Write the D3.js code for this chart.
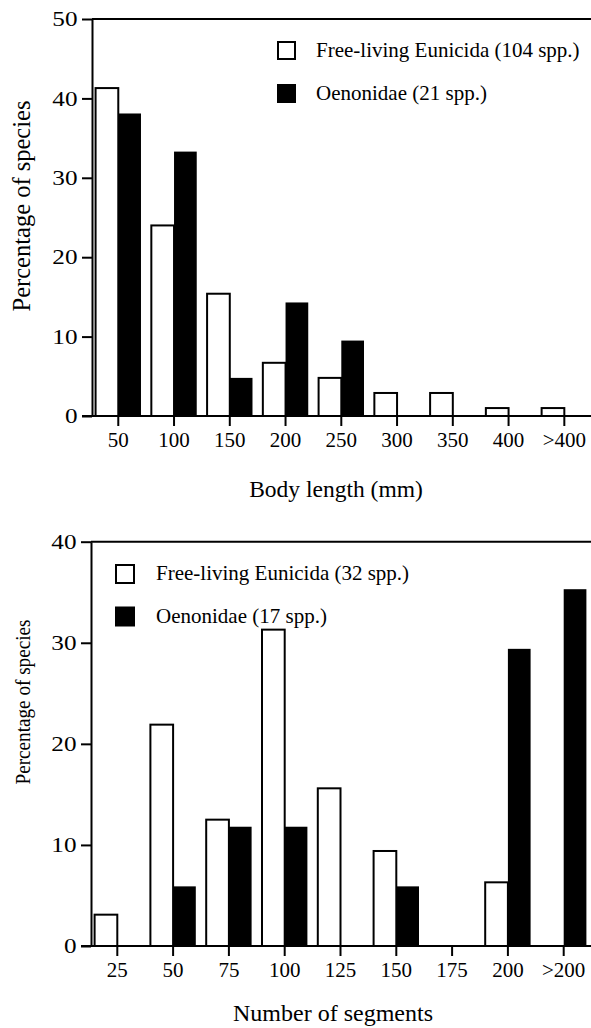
<!DOCTYPE html>
<html>
<head>
<meta charset="utf-8">
<script src="https://cdn.jsdelivr.net/npm/d3@7"></script>
<style>
  html, body { margin: 0; padding: 0; background: #fff; }
  svg { display: block; }
  text { font-family: "Liberation Serif", "Times New Roman", serif; fill: #000; }
</style>
</head>
<body>
<svg id="chart" width="591" height="1028"></svg>
<script>
// ---- Data (percentage of species) ----
const lengthCategories = ["50", "100", "150", "200", "250", "300", "350", "400", ">400"];
const lengthFreeLiving = [41.3, 24.0, 15.4, 6.7, 4.8, 2.9, 2.9, 1.0, 1.0];
const lengthOenonidae  = [38.1, 33.3, 4.8, 14.3, 9.5, 0, 0, 0, 0];
const lengthYTicks = [0, 10, 20, 30, 40, 50];

const segmentCategories = ["25", "50", "75", "100", "125", "150", "175", "200", ">200"];
const segmentFreeLiving = [3.1, 21.9, 12.5, 31.3, 15.6, 9.4, 0, 6.3, 0];
const segmentOenonidae  = [0, 5.9, 11.8, 11.8, 0, 5.9, 0, 29.4, 35.3];
const segmentYTicks = [0, 10, 20, 30, 40];

const lengthLegend = ["Free-living Eunicida (104 spp.)", "Oenonidae (21 spp.)"];
const segmentLegend = ["Free-living Eunicida (32 spp.)", "Oenonidae (17 spp.)"];

const svg = d3.select("#chart");

function panel(cfg) {
  const g = svg.append("g");
  const x = d3.scaleBand().domain(cfg.cats).range(cfg.xRange).paddingInner(0).paddingOuter(0);
  const y = d3.scaleLinear().domain([0, d3.max(cfg.yTicks)]).range(cfg.yRange);
  const bw = cfg.barW;
  const mid = c => x(c) + x.bandwidth() / 2;
  const axisX = cfg.xRange[0] + 1.6;

  // bars
  const rows = cfg.cats.map((c, i) => ({c, free: cfg.free[i], oeno: cfg.oeno[i]}));
  g.selectAll("rect.free").data(rows.filter(d => d.free > 0)).join("rect")
    .attr("class", "free")
    .attr("x", d => mid(d.c) - bw).attr("width", bw)
    .attr("y", d => y(d.free)).attr("height", d => y(0) - y(d.free))
    .attr("fill", "#fff").attr("stroke", "#000").attr("stroke-width", 2);
  g.selectAll("rect.oeno").data(rows.filter(d => d.oeno > 0)).join("rect")
    .attr("class", "oeno")
    .attr("x", d => mid(d.c)).attr("width", bw)
    .attr("y", d => y(d.oeno)).attr("height", d => y(0) - y(d.oeno))
    .attr("fill", "#000");

  // x axis
  const xa = g.append("g").attr("transform", `translate(0,${y(0)})`)
    .call(d3.axisBottom(x).tickSize(10).tickSizeOuter(0).tickPadding(6));
  xa.select(".domain").remove();
  xa.selectAll(".tick line").attr("stroke", "#000").attr("stroke-width", 2);
  xa.selectAll(".tick text").attr("font-size", 21).attr("font-family", "Liberation Serif");
  g.append("line").attr("x1", axisX - 10).attr("x2", 591).attr("y1", y(0)).attr("y2", y(0))
    .attr("stroke", "#000").attr("stroke-width", 2);
  // top border
  g.append("line").attr("x1", axisX).attr("x2", 591).attr("y1", y(d3.max(cfg.yTicks))).attr("y2", y(d3.max(cfg.yTicks)))
    .attr("stroke", "#000").attr("stroke-width", 2);

  // y axis
  const ya = g.append("g").attr("transform", `translate(${axisX},0)`)
    .call(d3.axisLeft(y).tickValues(cfg.yTicks).tickSize(10).tickSizeOuter(0).tickFormat(d3.format("d")));
  ya.select(".domain").attr("stroke", "#000").attr("stroke-width", 2);
  ya.selectAll(".tick line").attr("stroke", "#000").attr("stroke-width", 2);
  ya.selectAll(".tick text").attr("font-size", 21).attr("font-family", "Liberation Serif")
    .attr("x", -14.5 / 1.2).attr("transform", "scale(1.2,1)");

  // axis titles
  g.append("text").attr("x", cfg.xTitlePos[0]).attr("y", cfg.xTitlePos[1])
    .attr("text-anchor", "middle").attr("font-size", cfg.xTitleSize).text(cfg.xTitle);
  const yt = g.append("text").attr("transform", `translate(${cfg.yTitlePos[0]},${cfg.yTitlePos[1]}) rotate(-90)`)
    .attr("text-anchor", "middle").attr("font-size", cfg.yTitleSize).text("Percentage of species");
  if (cfg.yTitleLen) yt.attr("textLength", cfg.yTitleLen).attr("lengthAdjust", "spacingAndGlyphs");

  // legend
  const L = cfg.legend;
  [0, 1].forEach(i => {
    g.append("rect").attr("x", L.x).attr("y", L.y + i * L.gap).attr("width", L.size).attr("height", L.size)
      .attr("fill", i === 0 ? "#fff" : "#000").attr("stroke", "#000").attr("stroke-width", 2);
    g.append("text").attr("x", L.tx).attr("y", L.ty + i * L.gap).attr("font-size", 21).text(cfg.legendLabels[i]);
  });
}

panel({
  cats: lengthCategories, free: lengthFreeLiving, oeno: lengthOenonidae, yTicks: lengthYTicks,
  xRange: [90.4, 592.2], yRange: [416, 19], barW: 22.7,
  xTitle: "Body length (mm)", xTitlePos: [336, 497], xTitleSize: 23.5,
  yTitlePos: [30, 206], yTitleSize: 24.5,
  legend: {x: 278, y: 42, size: 17, gap: 43, tx: 316, ty: 57},
  legendLabels: lengthLegend
});

panel({
  cats: segmentCategories, free: segmentFreeLiving, oeno: segmentOenonidae, yTicks: segmentYTicks,
  xRange: [89.4, 591.6], yRange: [946, 541.7], barW: 22.7,
  xTitle: "Number of segments", xTitlePos: [333, 1021], xTitleSize: 24,
  yTitlePos: [30, 702], yTitleSize: 22, yTitleLen: 165,
  legend: {x: 116, y: 565, size: 18, gap: 42.5, tx: 156, ty: 580},
  legendLabels: segmentLegend
});
</script>
</body>
</html>
